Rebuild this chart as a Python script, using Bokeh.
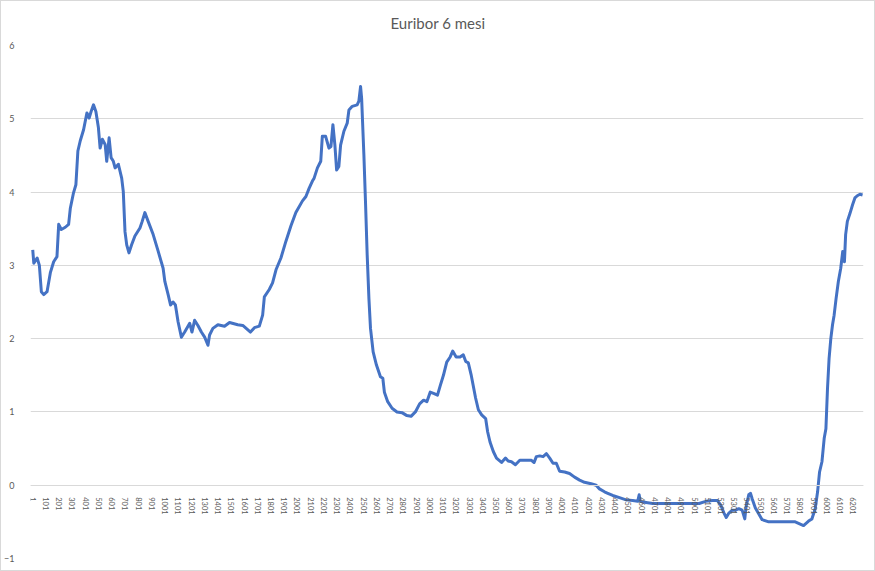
from bokeh.plotting import figure
from bokeh.models import Range1d, FixedTicker
from bokeh.embed import file_html
from bokeh.resources import INLINE

obs_index = [
    1, 9, 34, 51, 66, 84, 109, 134, 159, 184, 197, 217, 247, 272, 285, 309, 327, 342, 360, 385,
    410, 427, 442, 460, 478, 497, 510, 527, 548, 560, 578, 593, 610, 623, 648, 673, 685, 698, 711, 728,
    748, 773, 811, 828, 848, 873, 911, 949, 986,
    999, 1024, 1042, 1061, 1079, 1099, 1124, 1149, 1187, 1204, 1224, 1249, 1275, 1300, 1325, 1337, 1362, 1400, 1450, 1488,
    1550, 1588, 1646, 1676, 1713, 1738, 1751, 1788, 1813, 1839, 1876, 1914, 1952, 1989, 2039, 2065, 2089, 2114,
    2127, 2152, 2177, 2189, 2214, 2239, 2254, 2269, 2284, 2297, 2314, 2327, 2352, 2377, 2390, 2415, 2452, 2465, 2478, 2486,
    2493, 2503, 2516, 2528, 2541, 2553, 2573, 2598, 2628, 2646, 2658, 2683, 2716, 2753, 2791, 2828, 2859, 2892, 2924, 2954,
    2979, 3004, 3034, 3059, 3080, 3104, 3129, 3155, 3174, 3200, 3230, 3254,
    3272, 3292, 3313, 3330, 3347, 3368, 3393, 3423, 3438, 3456, 3481, 3505, 3543, 3573, 3593, 3618, 3648, 3681, 3719, 3769,
    3789, 3806, 3832, 3857, 3882, 3907, 3932, 3957, 3982, 4020, 4057, 4095, 4133, 4170, 4220, 4258, 4283, 4321, 4346, 4383,
    4434, 4484, 4534, 4572, 4583, 4591, 4610, 4685, 4810, 4935, 5036, 5086, 5136, 5174, 5199, 5224, 5241, 5261, 5286, 5311,
    5336, 5361, 5381, 5391, 5411, 5424, 5436, 5461, 5512, 5562, 5662, 5762, 5825, 5863, 5888, 5913, 5931, 5946, 5964, 5981,
    5994, 6006, 6018, 6031, 6044, 6056, 6071, 6088, 6106, 6121, 6134, 6143, 6156, 6176, 6196, 6213, 6231, 6251, 6271,
]
euribor_6m = [
    3.21, 3.03, 3.10, 3.00, 2.64, 2.60, 2.64, 2.90, 3.05, 3.12, 3.56, 3.49, 3.52, 3.56, 3.78, 3.99, 4.10, 4.56, 4.70, 4.85,
    5.08, 5.01, 5.10, 5.19, 5.10, 4.88, 4.60, 4.72, 4.65, 4.42, 4.74, 4.47, 4.42, 4.33, 4.38, 4.19, 4.01, 3.46, 3.28, 3.17,
    3.28, 3.40, 3.51, 3.60, 3.72, 3.60, 3.42, 3.19, 2.96,
    2.78, 2.60, 2.46, 2.50, 2.46, 2.23, 2.02, 2.09, 2.21, 2.09, 2.25, 2.18, 2.09, 2.02, 1.91, 2.05, 2.14, 2.19, 2.17, 2.22,
    2.19, 2.18, 2.09, 2.15, 2.17, 2.32, 2.57, 2.67, 2.76, 2.94, 3.10, 3.33, 3.54, 3.72, 3.88, 3.94, 4.05, 4.15,
    4.19, 4.33, 4.42, 4.76, 4.76, 4.60, 4.62, 4.92, 4.64, 4.30, 4.35, 4.64, 4.83, 4.94, 5.12, 5.17, 5.19, 5.24, 5.44, 5.28,
    4.96, 4.51, 3.82, 3.14, 2.55, 2.14, 1.82, 1.64, 1.48, 1.46, 1.27, 1.14, 1.05, 1.00, 0.99, 0.95, 0.94, 1.00, 1.11, 1.16,
    1.14, 1.27, 1.25, 1.23, 1.36, 1.50, 1.68, 1.75, 1.83, 1.75, 1.75, 1.78,
    1.69, 1.67, 1.51, 1.35, 1.19, 1.03, 0.96, 0.91, 0.73, 0.59, 0.46, 0.37, 0.31, 0.37, 0.33, 0.32, 0.28, 0.34, 0.34, 0.34,
    0.31, 0.39, 0.40, 0.39, 0.43, 0.37, 0.30, 0.30, 0.19, 0.18, 0.16, 0.11, 0.07, 0.04, 0.02, 0.00, -0.05, -0.09, -0.11, -0.14,
    -0.17, -0.20, -0.21, -0.22, -0.13, -0.22, -0.23, -0.25, -0.25, -0.25, -0.25, -0.22, -0.21, -0.21, -0.27, -0.38, -0.44, -0.38, -0.34, -0.34,
    -0.32, -0.34, -0.46, -0.29, -0.13, -0.11, -0.18, -0.31, -0.47, -0.50, -0.50, -0.50, -0.55, -0.49, -0.46, -0.32, -0.09, 0.18, 0.32, 0.64,
    0.77, 1.32, 1.73, 2.00, 2.19, 2.32, 2.55, 2.78, 2.96, 3.19, 3.05, 3.42, 3.60, 3.71, 3.83, 3.92, 3.95, 3.97, 3.96,
]

x_ticks = list(range(1, 6202, 100))
x_tick_labels = [str(t) for t in x_ticks]
y_ticks = [-1, 0, 1, 2, 3, 4, 5, 6]
chart_title = "Euribor 6 mesi"

TEXT_GRAY = "#595959"
GRID_GRAY = "#d9d9d9"

p = figure(
    width=875, height=571,
    output_backend="svg", toolbar_location=None,
    x_range=Range1d(-16, 6278), y_range=Range1d(-1, 6),
    title=chart_title,
    min_border_left=25, min_border_right=13, min_border_top=44, min_border_bottom=14,
)
p.background_fill_color = "white"
p.border_fill_color = "white"
p.outline_line_color = None

p.title.align = "left"
p.title.offset = 360
p.title.vertical_align = "top"
p.title.standoff = 24
p.title.text_font = "Lato"
p.title.text_font_size = "15px"
p.title.text_font_style = "normal"
p.title.text_color = TEXT_GRAY

p.line(obs_index, euribor_6m, line_color="#4472C4", line_width=3, line_join="round")

# y axis
p.yaxis.ticker = FixedTicker(ticks=y_ticks)
p.yaxis.axis_line_color = None
p.yaxis.major_tick_line_color = None
p.yaxis.minor_tick_line_color = None
p.yaxis.major_label_standoff = 10
p.yaxis.major_label_text_font = "Lato"
p.yaxis.major_label_text_font_size = "9px"
p.yaxis.major_label_text_color = TEXT_GRAY

p.ygrid.ticker = FixedTicker(ticks=y_ticks)
p.ygrid.grid_line_color = GRID_GRAY
p.xgrid.visible = False

# x axis crossing at 0
p.xaxis.fixed_location = 0
p.xaxis.ticker = FixedTicker(ticks=x_ticks)
p.xaxis.major_label_overrides = {t: s for t, s in zip(x_ticks, x_tick_labels)}
p.xaxis.major_label_orientation = "vertical"
p.xaxis.axis_line_color = GRID_GRAY
p.xaxis.major_tick_line_color = None
p.xaxis.minor_tick_line_color = None
p.xaxis.major_label_standoff = 6
p.xaxis.major_label_text_font = "Lato"
p.xaxis.major_label_text_font_size = "7.5px"
p.xaxis.major_label_text_color = TEXT_GRAY

p.styles = {"border": "1px solid #d9d9d9", "box-sizing": "border-box"}

open("out.html", "w").write(file_html(p, INLINE))
